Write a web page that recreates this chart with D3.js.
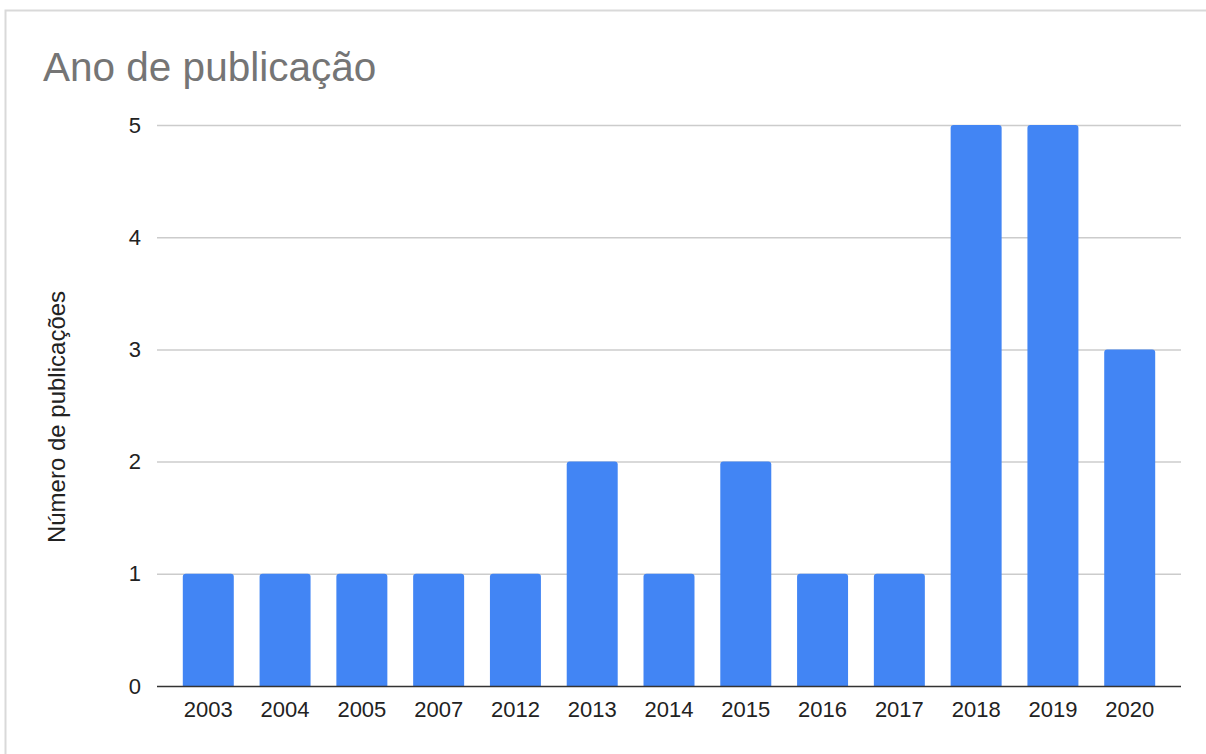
<!DOCTYPE html>
<html><head><meta charset="utf-8">
<script src="https://cdn.jsdelivr.net/npm/d3@7"></script>
<style>body{margin:0;background:#fff}svg{display:block}</style>
</head><body>
<svg id="c" width="1206" height="754"></svg>
<script>
const years = ["2003","2004","2005","2007","2012","2013","2014","2015","2016","2017","2018","2019","2020"];
const counts = [1,1,1,1,1,2,1,2,1,1,5,5,3];
const yTicks = [0,1,2,3,4,5];
const title = "Ano de publicação";
const yTitle = "Número de publicações";

const svg = d3.select("#c");
const font = "Arial, 'Liberation Sans', sans-serif";
svg.append("rect").attr("x",5.5).attr("y",10.5).attr("width",1220).attr("height",780)
  .attr("fill","#fff").attr("stroke","#d9d9d9").attr("stroke-width",2);

const x = d3.scaleBand().domain(years).range([157,1181]).paddingInner(0.336).paddingOuter(0.336);
const y = d3.scaleLinear().domain([0,5]).range([686,125]);

svg.append("text").attr("x",43).attr("y",81).attr("font-family",font).attr("font-size",40.5)
  .attr("fill","#757575").text(title);

const grid = svg.append("g");
grid.selectAll("line").data(yTicks.filter(d=>d>0)).join("line")
  .attr("x1",157).attr("x2",1181).attr("y1",d=>y(d)+0.5).attr("y2",d=>y(d)+0.5)
  .attr("stroke","#cccccc").attr("stroke-width",1.5);

const yAxis = d3.axisLeft(y).tickValues(yTicks).tickFormat(d3.format("d")).tickSize(0).tickPadding(16);
const ya = svg.append("g").attr("transform","translate(157,0)").call(yAxis);
ya.select(".domain").remove();
ya.selectAll("text").attr("font-family",font).attr("font-size",22).attr("fill","#222");

function roundTop(xx,yy,w,h,r){
  return `M${xx},${yy+h}V${yy+r}Q${xx},${yy} ${xx+r},${yy}H${xx+w-r}Q${xx+w},${yy} ${xx+w},${yy+r}V${yy+h}Z`;
}
svg.append("g").selectAll("path").data(years).join("path")
  .attr("d",(d,i)=>roundTop(x(d),y(counts[i]),x.bandwidth(),y(0)-y(counts[i]),3))
  .attr("fill","#4285f4");

svg.append("line").attr("x1",157).attr("x2",1181).attr("y1",y(0)+0.5).attr("y2",y(0)+0.5)
  .attr("stroke","#333").attr("stroke-width",1.5);

const xAxis = d3.axisBottom(x).tickSize(0).tickPadding(0);
const xa = svg.append("g").attr("transform","translate(0,0)").call(xAxis);
xa.select(".domain").remove();
xa.selectAll("text").attr("font-family",font).attr("font-size",22).attr("fill","#222")
  .attr("y",716.5).attr("dy",0);

svg.append("text").attr("transform","translate(65,417) rotate(-90)").attr("text-anchor","middle")
  .attr("font-family",font).attr("font-size",24).attr("fill","#222").text(yTitle);
</script>
</body></html>
